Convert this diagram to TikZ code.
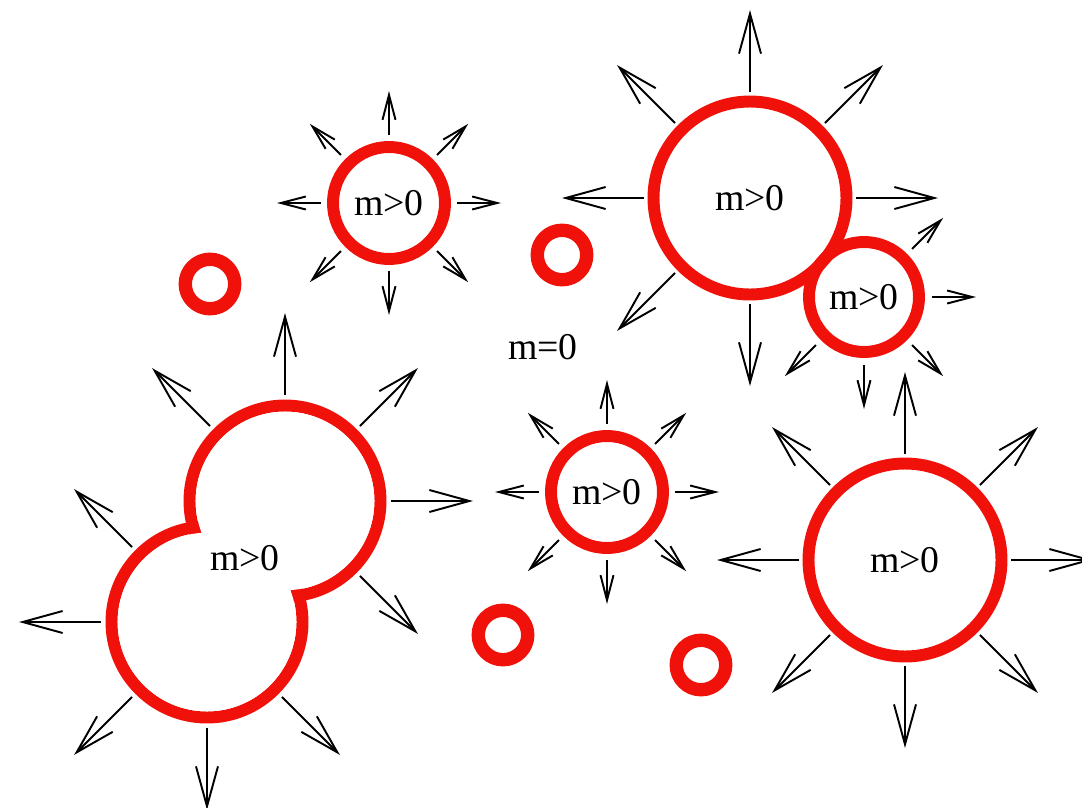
\documentclass[tikz,border=0pt]{standalone}
\usepackage{fontspec}
\setmainfont{Liberation Serif}
\usepackage{tikz}
\usetikzlibrary{positioning}
\usetikzlibrary{arrows.meta}
\definecolor{cellred}{RGB}{240,18,10}

\begin{document}
\begin{tikzpicture}[font=\fontsize{21.5}{26}\selectfont, line join=round,
	big node/.style={circle,draw=cellred,line width=6.8pt,minimum size=3.86cm,inner sep=0pt},
	small node/.style={circle,draw=cellred,line width=6.8pt,minimum size=2.24cm,inner sep=0pt},
	ring node/.style={circle,draw=cellred,line width=7.6pt,minimum size=0.99cm,inner sep=0pt},
	big ray/.style={-{Straight Barb[length=0.8cm,width=0.44cm]},line width=1.1pt},
	small ray/.style={-{Straight Barb[length=0.5cm,width=0.26cm]},line width=1.1pt}]

	\useasboundingbox (0,0) rectangle (21.64,-16.16);

	% cells that grow
	\node[small node] (tl) at (7.78,-4.06) {m>0};
	\node[big node] (tr) at (15.00,-3.96) {m>0};
	\node[small node, minimum size=2.2cm, on grid, below right=1.98cm and 2.28cm of tr] (rs) {m>0};
	\node[small node] (mid) at (12.14,-9.84) {m>0};
	\node[big node] (br) at (18.10,-11.20) {m>0};

	% two cells merged
	\node[big node, minimum size=3.82cm] (up) at (5.70,-10.02) {};
	\node[big node, minimum size=3.82cm, on grid, below left=2.42cm and 1.56cm of up] (lo) {};
	\fill[white] (up.center) circle (1.785) (lo.center) circle (1.785);
	\node (mtxt) at (4.90,-11.16) {m>0};

	% dead ones
	\node[ring node] (r1) at (4.20,-5.68) {};
	\node[ring node] (r2) at (11.24,-5.10) {};
	\node[ring node] (r3) at (10.06,-12.70) {};
	\node[ring node] (r4) at (14.02,-13.30) {};
	\node (zero) at (10.86,-6.94) {m=0};

	% arrows
	\foreach \a in {0,45,...,315}
		\draw[small ray] (tl.center) ++(\a:1.36) -- ++(\a:0.88);
	\foreach \a in {0,45,...,315}
		\draw[small ray] (mid.center) ++(\a:1.36) -- ++(\a:0.88);
	\foreach \a in {45,0,-45,-90,-135}
		\draw[small ray] (rs.center) ++(\a:1.36) -- ++(\a:0.88);
	\foreach \a in {0,45,...,270}
		\draw[big ray] (tr.center) ++(\a:2.12) -- ++(\a:1.64);
	\foreach \a in {0,45,...,315}
		\draw[big ray] (br.center) ++(\a:2.12) -- ++(\a:1.64);
	\foreach \a in {90,45,0,-45,135}
		\draw[big ray] (up.center) ++(\a:2.12) -- ++(\a:1.64);
	\foreach \a in {180,135,225,270,315}
		\draw[big ray] (lo.center) ++(\a:2.12) -- ++(\a:1.64);
\end{tikzpicture}
\end{document}
